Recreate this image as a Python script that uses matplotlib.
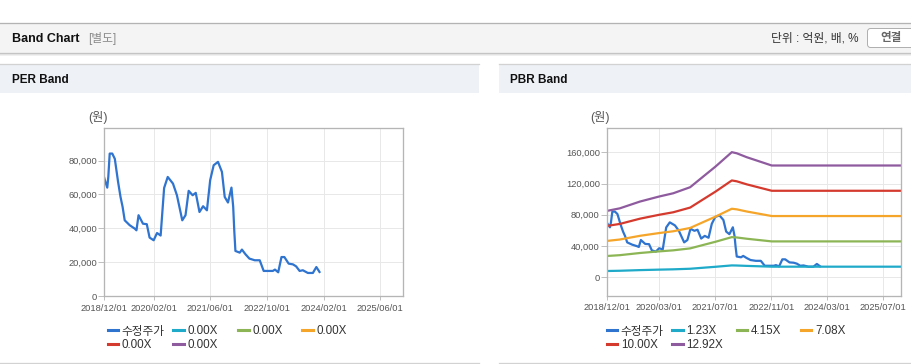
import numpy as np
import pandas as pd
import matplotlib
matplotlib.use('Agg')
import matplotlib.pyplot as plt
from matplotlib.patches import Rectangle, FancyBboxPatch
from matplotlib.lines import Line2D
from matplotlib.ticker import FuncFormatter

plt.rcParams['font.family'] = ['Liberation Sans', 'Noto Sans CJK KR']

# adjusted share price (원)
price_dates = ['2018-12-01', '2018-12-13', '2018-12-29', '2019-01-07', '2019-01-19', '2019-02-10',
               '2019-03-04', '2019-04-01', '2019-04-22', '2019-05-10', '2019-05-28', '2019-07-10',
               '2019-08-22', '2019-09-06', '2019-09-24', '2019-11-01', '2019-12-04', '2019-12-28',
               '2020-02-01', '2020-03-01', '2020-04-01', '2020-05-01', '2020-06-01', '2020-07-16',
               '2020-08-19', '2020-10-04', '2020-11-01', '2020-11-28', '2021-01-01', '2021-01-28',
               '2021-03-01', '2021-04-01', '2021-05-04', '2021-06-01', '2021-07-01', '2021-08-07',
               '2021-09-10', '2021-10-04', '2021-11-01', '2021-12-01', '2021-12-16', '2021-12-25',
               '2022-01-04', '2022-02-10', '2022-03-01', '2022-04-01', '2022-05-04', '2022-06-19',
               '2022-08-01', '2022-09-04', '2022-11-22', '2022-12-10', '2023-01-07', '2023-02-04',
               '2023-03-01', '2023-04-07', '2023-05-13', '2023-06-10', '2023-07-10', '2023-08-07',
               '2023-09-19', '2023-11-01', '2023-12-01', '2023-12-28']
price = [70300, 67400, 64000, 70300, 84100, 84100,
         81000, 67400, 58500, 52600, 44700, 41800,
         39800, 38800, 47700, 42700, 42400, 34500,
         32900, 37200, 35700, 63800, 70300, 66400,
         59500, 44700, 47700, 62100, 59500, 60900,
         49600, 53000, 50600, 68400, 77200, 79200,
         73300, 58500, 55200, 64000, 52600, 38800,
         26600, 25600, 27400, 24600, 22100, 21100,
         21100, 14800, 14800, 15600, 14000, 23000,
         23000, 19100, 18700, 17500, 14800, 15200,
         13600, 13600, 17100, 14200]

# book value per share used for the PBR bands
bps_dates = ['2018-12-01', '2019-03-25', '2019-09-16', '2020-03-01', '2020-07-01', '2020-11-25',
             '2021-03-19', '2021-07-04', '2021-11-22', '2022-01-04', '2022-04-01', '2022-11-04',
             '2025-12-01']
bps = [6570, 6830, 7500, 8000, 8320, 8920, 9980, 10970, 12390, 12280, 11890, 11070, 11070]

pbr_multiples = [1.23, 4.15, 7.08, 10.00, 12.92]
per_multiples = [0.00, 0.00, 0.00, 0.00, 0.00]
band_colors = ['#1eaac8', '#8cb655', '#f5a52a', '#d53a2e', '#8f5b9f']
price_color = '#2f74cf'
price_label = '수정주가'

per_ticks = ['2018-12-01', '2020-02-01', '2021-06-01', '2022-10-01', '2024-02-01', '2025-06-01']
pbr_ticks = ['2018-12-01', '2020-03-01', '2021-07-01', '2022-11-01', '2024-03-01', '2025-07-01']

W, H = 912, 364
fig = plt.figure(figsize=(W / 100, H / 100), dpi=100)

# background layer in pixel coordinates
bg = fig.add_axes([0, 0, 1, 1], zorder=0)
bg.set_xlim(0, W)
bg.set_ylim(H, 0)
bg.axis('off')

px = 0.72  # one pixel in points
bg.add_patch(Rectangle((0, 22.5), W, 30.5, facecolor='#f4f4f4', edgecolor='none'))
bg.plot([0, W], [22.5, 22.5], color='#b3b3b3', lw=1.3 * px)
bg.plot([0, W], [53, 53], color='#c4c4c4', lw=1.3 * px)
bg.plot([0, W], [54.2, 54.2], color='#e2e2e2', lw=1 * px)
bg.plot([0, W], [55.3, 55.3], color='#f0f0f0', lw=1 * px)
for x0, x1 in [(0, 479), (499, W)]:
    bg.add_patch(Rectangle((x0, 64), x1 - x0, 28.5, facecolor='#eef2f7', edgecolor='none'))
    bg.plot([x0, x1], [64, 64], color='#d2d2d2', lw=1.3 * px)
    bg.plot([x0, x1], [362.5, 362.5], color='#d2d2d2', lw=1.3 * px)

bg.text(12, 38.5, 'Band Chart', fontsize=9, fontweight='bold', color='#111111', va='center')
bg.text(88, 38.5, '[별도]', fontsize=8.5, color='#8a8a8a', va='center')
bg.text(859, 38.5, '단위 : 억원, 배, %', fontsize=8.5, color='#333333', va='center', ha='right')
bg.add_patch(FancyBboxPatch((867.5, 28.5), 60, 19, boxstyle='round,pad=0,rounding_size=3',
                            facecolor='white', edgecolor='#b0b0b0', lw=1 * px))
bg.text(891, 38.5, '연결', fontsize=8.3, fontweight='bold', color='#666666', va='center', ha='center')
bg.text(12, 80, 'PER Band', fontsize=8.5, fontweight='bold', color='#111111', va='center')
bg.text(510.5, 80, 'PBR Band', fontsize=8.5, fontweight='bold', color='#111111', va='center')
bg.text(88, 118, '(원)', fontsize=8.8, color='#555555', va='center')
bg.text(590, 118, '(원)', fontsize=8.8, color='#555555', va='center')


def make_axes(left, right, top, bottom):
    ax = fig.add_axes([left / W, 1 - bottom / H, (right - left) / W, (bottom - top) / H], zorder=1)
    ax.set_facecolor('white')
    for s in ax.spines.values():
        s.set_color('#b5b5b5')
        s.set_linewidth(1.3 * px)
    ax.grid(True, color='#e8e8e8', lw=1 * px)
    ax.set_axisbelow(True)
    ax.tick_params(axis='both', colors='#c0c0c0', labelcolor='#555555', labelsize=6.7,
                   length=4, width=1 * px, pad=1)
    ax.tick_params(axis='x', length=3, pad=2.5)
    ax.yaxis.set_major_formatter(FuncFormatter(lambda v, p: f'{v:,.0f}'))
    return ax


pd_price = pd.to_datetime(price_dates)
pd_bps = pd.to_datetime(bps_dates)

# PER band
ax1 = make_axes(104, 403, 128, 296)
ax1.plot(pd_price, price, color=price_color, lw=1.6)
per_handles = [Line2D([], [], color=price_color, lw=2.2)]
per_labels = [price_label]
for m, c in zip(per_multiples, band_colors):
    ax1.plot([], [], color=c, lw=1.6)
    per_handles.append(Line2D([], [], color=c, lw=2.2))
    per_labels.append(f'{m:.2f}X')
ax1.set_ylim(0, 99200)
ax1.set_yticks([0, 20000, 40000, 60000, 80000])
ax1.set_xlim(pd.Timestamp('2018-12-01'), pd.Timestamp('2025-12-15'))
ax1.set_xticks(pd.to_datetime(per_ticks))
ax1.set_xticklabels([t.replace('-', '/') for t in per_ticks])

# PBR band
ax2 = make_axes(606.7, 901, 128.3, 295.7)
ax2.plot(pd_price, price, color=price_color, lw=1.6)
pbr_handles = [Line2D([], [], color=price_color, lw=2.2)]
pbr_labels = [price_label]
for m, c in zip(pbr_multiples, band_colors):
    ax2.plot(pd_bps, np.array(bps) * m, color=c, lw=1.6)
    pbr_handles.append(Line2D([], [], color=c, lw=2.2))
    pbr_labels.append(f'{m:.2f}X')
ax2.set_ylim(-23500, 190600)
ax2.set_yticks([0, 40000, 80000, 120000, 160000])
ax2.set_xlim(pd.Timestamp('2018-12-01'), pd.Timestamp('2025-12-01'))
ax2.set_xticks(pd.to_datetime(pbr_ticks))
ax2.set_xticklabels([t.replace('-', '/') for t in pbr_ticks])


def add_legend(handles, labels, xs, top):
    # four fixed-width columns, items filled row by row
    for col, x in enumerate(xs):
        idx = list(range(col, len(handles), len(xs)))
        leg = fig.legend([handles[i] for i in idx], [labels[i] for i in idx],
                         loc='upper left', bbox_to_anchor=(x, top), bbox_transform=bg.transData,
                         frameon=False, fontsize=8.4, handlelength=0.9, handletextpad=0.3,
                         borderpad=0, borderaxespad=0, labelspacing=0.12, labelcolor='#333333')
        leg.set_zorder(2)


add_legend(per_handles, per_labels, [107.7, 173.3, 238.3, 302.3], 325.5)
add_legend(pbr_handles, pbr_labels, [606.7, 672.3, 736.7, 801], 325.5)

fig.savefig('out.png', dpi=100)
